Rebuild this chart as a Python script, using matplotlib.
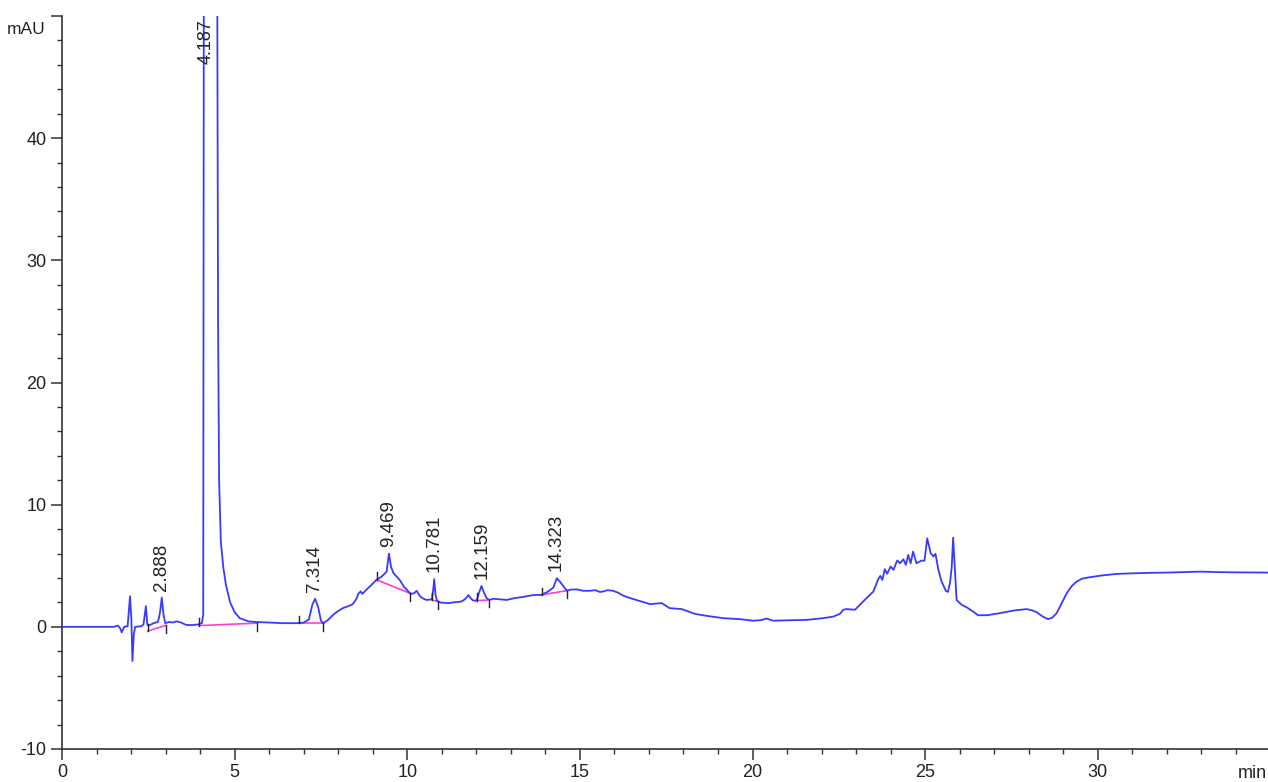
import matplotlib
matplotlib.use("Agg")
import matplotlib.pyplot as plt
from matplotlib.ticker import MultipleLocator

plt.rcParams['font.family'] = ['Liberation Sans', 'DejaVu Sans']

# chromatogram trace (time in min, signal in mAU)
time = [0.0, 1.5, 1.62, 1.68, 1.73, 1.8, 1.9, 1.97, 2.01, 2.04, 2.08, 2.12, 2.3, 2.36,
        2.43, 2.47, 2.5, 2.55, 2.65, 2.78, 2.84, 2.89, 2.94, 2.99, 3.1, 3.2, 3.32, 3.45,
        3.6, 3.8, 3.95, 4.05, 4.09, 4.11, 4.187, 4.49, 4.52, 4.55, 4.6, 4.67, 4.75, 4.87,
        5.0, 5.15, 5.4, 5.6, 6.0, 6.4, 6.8, 7.0, 7.15, 7.25, 7.33, 7.42, 7.5, 7.57, 7.7,
        7.86, 8.0, 8.15, 8.3, 8.42, 8.53, 8.58, 8.65, 8.7, 8.82, 8.95, 9.11, 9.25, 9.4,
        9.47, 9.53, 9.6, 9.7, 9.79, 9.9, 10.03, 10.1, 10.2, 10.27, 10.37, 10.47, 10.56,
        10.71, 10.75, 10.78, 10.82, 10.86, 10.95, 11.1, 11.24, 11.33, 11.53, 11.62, 11.72,
        11.77, 11.85, 11.91, 12.01, 12.08, 12.15, 12.22, 12.3, 12.38, 12.5, 12.7, 12.88,
        13.1, 13.36, 13.65, 13.89, 14.05, 14.23, 14.33, 14.42, 14.5, 14.62, 14.75, 14.9,
        15.1, 15.29, 15.45, 15.58, 15.68, 15.8, 15.96, 16.1, 16.26, 16.4, 16.55, 16.8,
        17.03, 17.2, 17.37, 17.6, 17.95, 18.15, 18.33, 18.67, 19.15, 19.63, 20.02, 20.25,
        20.4, 20.6, 21.08, 21.57, 22.05, 22.34, 22.53, 22.63, 22.72, 22.97, 23.2, 23.5,
        23.64, 23.7, 23.76, 23.83, 23.9, 24.0, 24.08, 24.19, 24.27, 24.37, 24.44, 24.51,
        24.58, 24.65, 24.75, 24.9, 24.98, 25.06, 25.16, 25.24, 25.3, 25.38, 25.47, 25.6,
        25.66, 25.72, 25.77, 25.81, 25.86, 25.91, 26.06, 26.2, 26.39, 26.53, 26.8, 27.16,
        27.6, 27.94, 28.1, 28.23, 28.4, 28.56, 28.68, 28.81, 28.95, 29.1, 29.25, 29.39,
        29.55, 29.77, 30.1, 30.54, 31.0, 31.5, 32.0, 32.5, 32.96, 33.5, 34.0, 34.93]
signal = [0.0, 0.0, 0.1, -0.1, -0.45, 0.0, 0.05, 2.5, 0.5, -2.8, -0.6, 0.0, 0.05, 0.2,
          1.7, 0.2, 0.1, 0.15, 0.3, 0.4, 1.2, 2.4, 1.0, 0.3, 0.4, 0.35, 0.45, 0.35,
          0.15, 0.15, 0.2, 0.3, 1.0, 60.0, 150.0, 60.0, 25.0, 12.0, 7.0, 4.9, 3.4, 2.0,
          1.2, 0.7, 0.45, 0.4, 0.35, 0.3, 0.3, 0.35, 0.6, 1.8, 2.3, 1.6, 0.5, 0.3, 0.55,
          1.0, 1.3, 1.55, 1.7, 1.85, 2.3, 2.7, 2.9, 2.7, 3.05, 3.4, 3.85, 4.1, 4.5,
          6.0, 4.9, 4.4, 4.1, 3.8, 3.3, 2.9, 2.7, 2.75, 2.95, 2.5, 2.3, 2.2,
          2.25, 3.0, 3.9, 2.6, 2.15, 2.0, 1.95, 1.95, 2.0, 2.05, 2.15, 2.4,
          2.6, 2.3, 2.15, 2.15, 2.8, 3.35, 2.8, 2.35, 2.2, 2.3, 2.25, 2.2,
          2.35, 2.45, 2.6, 2.62, 2.85, 3.2, 3.98, 3.7, 3.4, 2.97, 3.05, 3.07,
          2.95, 2.95, 3.0, 2.85, 2.9, 3.0, 2.95, 2.8, 2.55, 2.4, 2.27, 2.05,
          1.86, 1.9, 1.94, 1.53, 1.45, 1.25, 1.06, 0.9, 0.71, 0.63, 0.5, 0.55,
          0.68, 0.5, 0.54, 0.57, 0.71, 0.84, 1.06, 1.4, 1.45, 1.4, 2.07, 2.89,
          3.9, 4.17, 3.84, 4.72, 4.34, 4.94, 4.66, 5.43, 5.2, 5.53, 5.07, 5.89,
          5.2, 6.16, 5.2, 5.43, 5.4, 7.25, 6.02, 5.76, 5.98, 4.7, 3.75, 2.94,
          2.86, 3.6, 4.9, 7.3, 4.7, 2.2, 1.8, 1.6, 1.25, 0.95, 0.95, 1.12,
          1.35, 1.45, 1.35, 1.2, 0.85, 0.63, 0.75, 1.12, 1.9, 2.75, 3.35, 3.71,
          3.95, 4.06, 4.2, 4.33, 4.38, 4.42, 4.44, 4.48, 4.52, 4.48, 4.46, 4.44]

# integrated peaks: retention time, apex height, baseline start/end
peak_rt = [2.888, 4.187, 7.314, 9.469, 10.781, 12.159, 14.323]
peak_top = [2.4, 46.0, 2.3, 6.0, 3.9, 3.35, 3.98]
base_t0 = [2.48, 3.97, 6.87, 9.11, 10.71, 12.01, 13.89]
base_y0 = [-0.35, 0.1, 0.3, 3.85, 2.2, 2.15, 2.62]
base_t1 = [3.0, 5.64, 7.57, 10.08, 10.90, 12.38, 14.64]
base_y1 = [0.12, 0.3, 0.3, 2.75, 2.05, 2.2, 2.97]

fig = plt.figure(figsize=(12.68, 7.82), dpi=100)
ax = fig.add_axes([0.0489, 0.0422, 0.9511, 0.9373])

ax.plot(time, signal, color="#3a3aff", lw=1.3, zorder=3)

for t0, y0, t1, y1 in zip(base_t0, base_y0, base_t1, base_y1):
    ax.plot([t0, t1], [y0, y1], color="#ff3fd2", lw=1.2, zorder=2)
    ax.plot([t0, t0], [y0, y0 + 0.6], color="#222222", lw=1.0, zorder=4)
    ax.plot([t1, t1], [y1, y1 - 0.6], color="#222222", lw=1.0, zorder=4)

for rt, top in zip(peak_rt, peak_top):
    if top > 40:
        ax.text(rt, 49.7, f"{rt:.3f}", rotation=90, ha="center", va="top",
                fontsize=13, color="#222222", zorder=5)
    else:
        ax.annotate(f"{rt:.3f}", (rt, top), xytext=(0, 5), textcoords="offset points",
                    rotation=90, ha="center", va="bottom", fontsize=13.5,
                    color="#222222", zorder=5)

ax.set_xlim(0, 34.93)
ax.set_ylim(-10, 50)

ax.spines["top"].set_visible(False)
ax.spines["right"].set_visible(False)
for s in ("left", "bottom"):
    ax.spines[s].set_color("#333333")
    ax.spines[s].set_linewidth(1.2)

ax.xaxis.set_major_locator(MultipleLocator(5))
ax.xaxis.set_minor_locator(MultipleLocator(1))
ax.set_yticks(range(-10, 51, 10))
ax.set_yticklabels([str(v) if v < 50 else "" for v in range(-10, 51, 10)])
ax.yaxis.set_minor_locator(MultipleLocator(2))
ax.tick_params(which="major", length=8, width=1.1, color="#333333",
               labelsize=13, labelcolor="#222222", pad=3)
ax.tick_params(which="minor", length=3.5, width=1.0, color="#333333")

ax.text(-0.014, 0.982, "mAU", transform=ax.transAxes, ha="right", va="center",
        fontsize=12.5, color="#222222")
ax.text(34.9, -0.033, "min", transform=ax.get_xaxis_transform(), ha="right",
        va="center", fontsize=13, color="#222222", clip_on=False)

fig.savefig("out.png", dpi=100)
